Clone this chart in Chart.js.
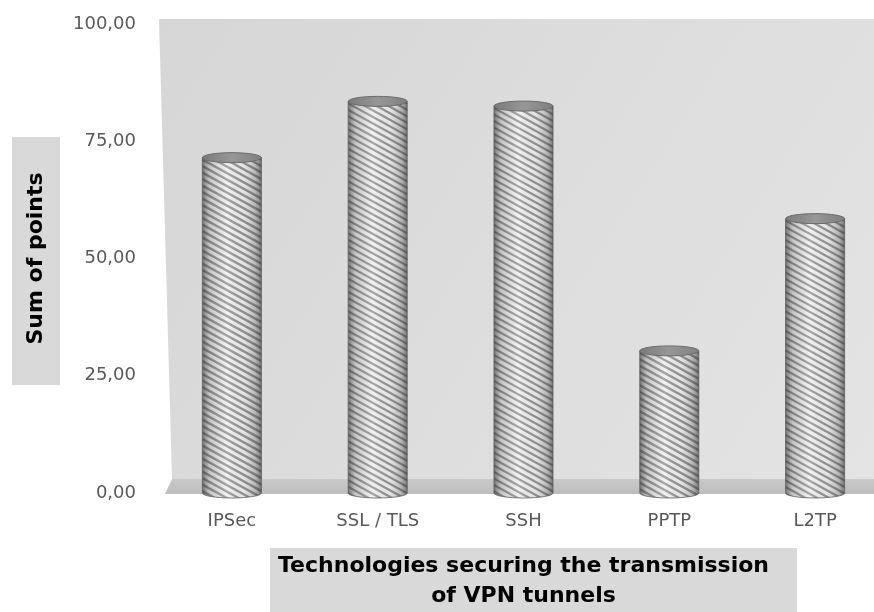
<!DOCTYPE html>
<html>
<head>
<meta charset="utf-8">
<script src="https://cdn.jsdelivr.net/npm/chart.js@4/dist/chart.umd.min.js"></script>
<style>
  html, body { margin: 0; padding: 0; background: #ffffff; width: 874px; height: 612px; overflow: hidden; }
  /* the plot runs slightly past the right edge of the page */
  #wrap { width: 888px; height: 612px; position: relative; }
</style>
</head>
<body>
<div id="wrap"><canvas id="chart"></canvas></div>
<script>
// Categories and values
const categories = ['IPSec', 'SSL / TLS', 'SSH', 'PPTP', 'L2TP'];
const sumOfPoints = [71.5, 83.5, 82.5, 30.3, 58.5];
const yTickValues = [0, 25, 50, 75, 100];
const yTitle = 'Sum of points';
const xTitle = ['Technologies securing the transmission', 'of VPN tunnels'];

const FONT = '"DejaVu Sans", Verdana, sans-serif';

// Gray boxes behind the axis titles, back wall and floor of the 3D plot
const backdropPlugin = {
  id: 'backdrop',
  beforeDraw(chart) {
    const { ctx, chartArea: ca, width } = chart;
    ctx.save();
    // axis title boxes
    ctx.fillStyle = '#d9d9d9';
    ctx.fillRect(12, 137, 48, 248);
    ctx.fillRect(270, 548, 527, 64);

    // back wall
    const wallTop = ca.top - 5;
    const floorTop = ca.bottom - 14;
    const g = ctx.createLinearGradient(ca.left, wallTop, width, floorTop);
    g.addColorStop(0, '#d6d6d6');
    g.addColorStop(1, '#e4e4e4');
    ctx.fillStyle = g;
    ctx.beginPath();
    ctx.moveTo(ca.left, wallTop);
    ctx.lineTo(width, wallTop);
    ctx.lineTo(width, floorTop);
    ctx.lineTo(ca.left + 13, floorTop);
    ctx.closePath();
    ctx.fill();

    // floor
    const fg = ctx.createLinearGradient(0, floorTop, 0, ca.bottom + 1);
    fg.addColorStop(0, '#c9c9c9');
    fg.addColorStop(1, '#bdbdbd');
    ctx.fillStyle = fg;
    ctx.beginPath();
    ctx.moveTo(ca.left + 13, floorTop);
    ctx.lineTo(width, floorTop);
    ctx.lineTo(width, ca.bottom + 1);
    ctx.lineTo(ca.left + 6, ca.bottom + 1);
    ctx.closePath();
    ctx.fill();
    ctx.restore();
  }
};

// Draws every bar element as a hatched cylinder
const cylinderPlugin = {
  id: 'cylinders',
  afterDatasetsDraw(chart) {
    const { ctx } = chart;
    const meta = chart.getDatasetMeta(0);
    const ry = 5;
    meta.data.forEach((bar) => {
      const { x, y, base, width } = bar.getProps(['x', 'y', 'base', 'width'], true);
      const l = x - width / 2, r = x + width / 2;
      const rx = width / 2;

      const body = () => {
        ctx.beginPath();
        ctx.moveTo(l, y);
        ctx.lineTo(l, base);
        ctx.ellipse(x, base, rx, ry, 0, Math.PI, 0, true);
        ctx.lineTo(r, y);
        ctx.closePath();
      };

      ctx.save();
      body();
      ctx.clip();
      ctx.fillStyle = '#eeeeee';
      ctx.fillRect(l - 2, y - 2, width + 4, base - y + ry + 4);

      // diagonal hatching
      ctx.strokeStyle = '#909090';
      ctx.lineWidth = 2.3;
      const slope = 0.55;
      const span = width + 4;
      for (let yy = y - span * slope - 10; yy < base + ry + 10; yy += 6.5) {
        ctx.beginPath();
        ctx.moveTo(l - 2, yy);
        ctx.lineTo(r + 2, yy + span * slope);
        ctx.stroke();
      }

      // cylindrical shading
      const sh = ctx.createLinearGradient(l, 0, r, 0);
      sh.addColorStop(0, 'rgba(50,50,50,0.65)');
      sh.addColorStop(0.12, 'rgba(70,70,70,0.25)');
      sh.addColorStop(0.42, 'rgba(255,255,255,0.2)');
      sh.addColorStop(0.7, 'rgba(120,120,120,0.08)');
      sh.addColorStop(0.9, 'rgba(60,60,60,0.32)');
      sh.addColorStop(1, 'rgba(50,50,50,0.65)');
      ctx.fillStyle = sh;
      ctx.fillRect(l - 2, y - 2, width + 4, base - y + ry + 4);
      ctx.restore();

      // outline
      ctx.save();
      body();
      ctx.strokeStyle = 'rgba(95,95,95,0.8)';
      ctx.lineWidth = 1;
      ctx.stroke();

      // top cap
      ctx.beginPath();
      ctx.ellipse(x, y, rx, ry, 0, 0, Math.PI * 2);
      const tg = ctx.createLinearGradient(l, 0, r, 0);
      tg.addColorStop(0, '#7b7b7b');
      tg.addColorStop(0.5, '#979797');
      tg.addColorStop(1, '#808080');
      ctx.fillStyle = tg;
      ctx.fill();
      ctx.strokeStyle = '#6a6a6a';
      ctx.stroke();
      ctx.restore();
    });
  }
};

const ctx = document.getElementById('chart').getContext('2d');
new Chart(ctx, {
  type: 'bar',
  data: {
    labels: categories,
    datasets: [{
      label: yTitle,
      data: sumOfPoints,
      backgroundColor: 'rgba(0,0,0,0)',
      borderWidth: 0,
      barPercentage: 0.405,
      categoryPercentage: 1.0
    }]
  },
  options: {
    responsive: true,
    maintainAspectRatio: false,
    animation: false,
    events: [],
    layout: { padding: { top: 24, right: 0, bottom: 0, left: 0 } },
    plugins: {
      legend: { display: false },
      tooltip: { enabled: false }
    },
    scales: {
      x: {
        grid: { display: false, drawTicks: false },
        border: { display: false },
        ticks: {
          color: '#595959',
          padding: 18,
          font: { family: FONT, size: 18 }
        },
        title: {
          display: true,
          text: xTitle,
          color: '#000000',
          padding: { top: 0, bottom: 1 },
          font: { family: FONT, size: 22, weight: 'bold', lineHeight: 30 / 22 }
        },
        afterFit(scale) { scale.height = 119; }
      },
      y: {
        min: 0,
        max: 100,
        grid: { display: false, drawTicks: false },
        border: { display: false },
        afterBuildTicks(scale) {
          scale.ticks = yTickValues.map(v => ({ value: v }));
        },
        ticks: {
          color: '#595959',
          padding: 23,
          font: { family: FONT, size: 18 },
          callback: (v) => Number(v).toFixed(2).replace('.', ',')
        },
        title: {
          display: true,
          text: yTitle,
          color: '#000000',
          padding: { top: 23, bottom: 0 },
          font: { family: FONT, size: 22, weight: 'bold' }
        },
        afterFit(scale) {
          scale.width = 159;
          scale.paddingTop = 0;
          scale.paddingBottom = 0;
        }
      }
    }
  },
  plugins: [backdropPlugin, cylinderPlugin]
});
</script>
</body>
</html>
